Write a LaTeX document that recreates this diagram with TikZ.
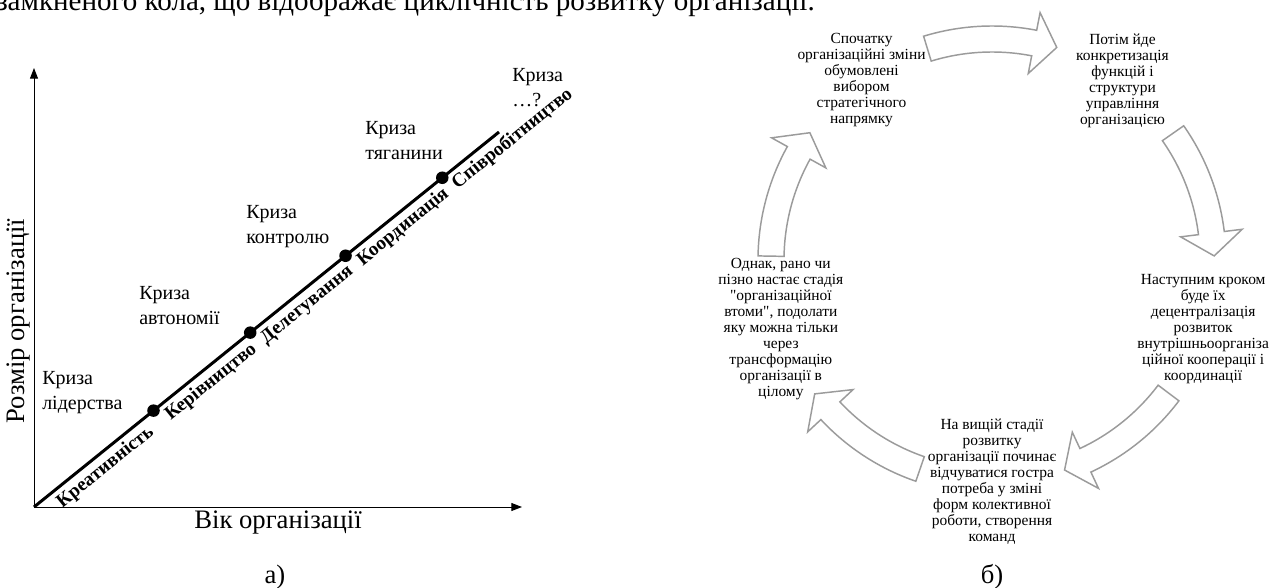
\documentclass[tikz,border=0pt]{standalone}
\usepackage{fontspec}
\setmainfont{Liberation Serif}[Ligatures=TeXOff]
\usetikzlibrary{arrows.meta,calc}
\definecolor{cyclegray}{RGB}{155,155,155}
\tikzset{
  crisislabel/.style={anchor=north west, align=left, inner sep=0pt, font=\fontsize{15}{18.75}\selectfont},
  stagelabel/.style={sloped, anchor=north, inner xsep=0pt, inner ysep=3.7pt, text height=10.2pt, text depth=3.5pt, font=\bfseries\fontsize{14.5}{17}\selectfont},
  crisisdot/.style={circle, fill=black, inner sep=0pt, minimum size=9.4pt},
  axisline/.style={line width=0.75pt, -{Triangle[length=8pt,width=6pt]}},
  growthline/.style={line width=2.25pt},
  cyclenode/.style={align=center, inner sep=0pt, font=\fontsize{11.6}{12}\selectfont},
  blockarrow/.style={draw=cyclegray, fill=white, line width=1.1pt, line join=miter},
  axislabel/.style={inner sep=0pt, font=\fontsize{20}{24}\selectfont},
  panellabel/.style={inner sep=0pt, font=\fontsize{20}{24}\selectfont},
}
\begin{document}
\begin{tikzpicture}[x=0.75pt,y=-0.75pt]
\useasboundingbox (0,0) rectangle (1276,588);
\fill[white] (0,0) rectangle (1276,588);
\node[anchor=base west, inner sep=0pt, font=\fontsize{21.8}{26}\selectfont] (caption) at (-4,11) {замкненого кола, що відображає циклічність розвитку організації.};

% ---------- panel a ----------
\coordinate (O) at (34,507);
\coordinate (YT) at (34,68);
\coordinate (XT) at (522,507);
\coordinate (E) at (499,132);
\draw[axisline] (O) -- (YT);
\draw[axisline] (O) -- (XT);
\draw[growthline] (O) -- (E);
\node[crisisdot] (d1) at ($(O)!0.257!(E)$) {};
\node[crisisdot] (d2) at ($(O)!0.465!(E)$) {};
\node[crisisdot] (d3) at ($(O)!0.670!(E)$) {};
\node[crisisdot] (d4) at ($(O)!0.878!(E)$) {};
\path (O) -- (E)
  node[stagelabel, pos=0.135] (s1) {Креативність}
  node[stagelabel, pos=0.362] (s2) {Керівництво}
  node[stagelabel, pos=0.568] (s3) {Делегування}
  node[stagelabel, pos=0.775] (s4) {Координація}
  node[stagelabel, pos=1.01] (s5) {Співробітництво};

\node[crisislabel] (k1) at (42,371) {Криза\\лідерства};
\node[crisislabel] (k2) at (139,286) {Криза\\автономії};
\node[crisislabel] (k3) at (246,205) {Криза\\контролю};
\node[crisislabel] (k4) at (365,121) {Криза\\тяганини};
\node[crisislabel] (k5) at (512,68) {Криза\\…?};

\node[axislabel, rotate=90] (ylab) at (19,321) {Розмір організації};
\node[axislabel] (xlab) at (278,523) {Вік організації};
\node[panellabel] (pa) at (275,577) {а)};

% ---------- panel b ----------
\coordinate (cc) at (992,260);
\foreach \m in {270,342,54,126,198} {
  \pgfmathsetmacro\tailang{\m-17}
  \pgfmathsetmacro\headang{\m+11}
  \pgfmathsetmacro\tipang{\m+101}
  \draw[blockarrow] ($(cc)+(\tailang:208)$) arc[start angle=\tailang, end angle=\headang, radius=208]
     -- ($(cc)+(\headang:190)$) -- ($(cc)+(\headang:221)+(\tipang:23)$) -- ($(cc)+(\headang:252)$)
     -- ($(cc)+(\headang:234)$) arc[start angle=\headang, end angle=\tailang, radius=234] -- cycle;
}
\node[cyclenode] (c1) at ($(cc)+(234:222)$) {Спочатку\\організаційні зміни\\обумовлені\\вибором\\стратегічного\\напрямку};
\node[cyclenode] (c2) at ($(cc)+(306:222)$) {Потім йде\\конкретизація\\функцій і\\структури\\управління\\організацією};
\node[cyclenode] (c3) at ($(cc)+(18:222)$) {Наступним кроком\\буде їх\\децентралізація\\розвиток\\внутрішньоорганіза\\ційної кооперації і\\координації};
\node[cyclenode] (c4) at ($(cc)+(90:222)$) {На вищій стадії\\розвитку\\організації починає\\відчуватися гостра\\потреба у зміні\\форм колективної\\роботи, створення\\команд};
\node[cyclenode] (c5) at ($(cc)+(162:222)$) {Однак, рано чи\\пізно настає стадія\\"організаційної\\втоми", подолати\\яку можна тільки\\через\\трансформацію\\організації в\\цілому};
\node[panellabel] (pb) at (992,577) {б)};
\end{tikzpicture}
\end{document}
